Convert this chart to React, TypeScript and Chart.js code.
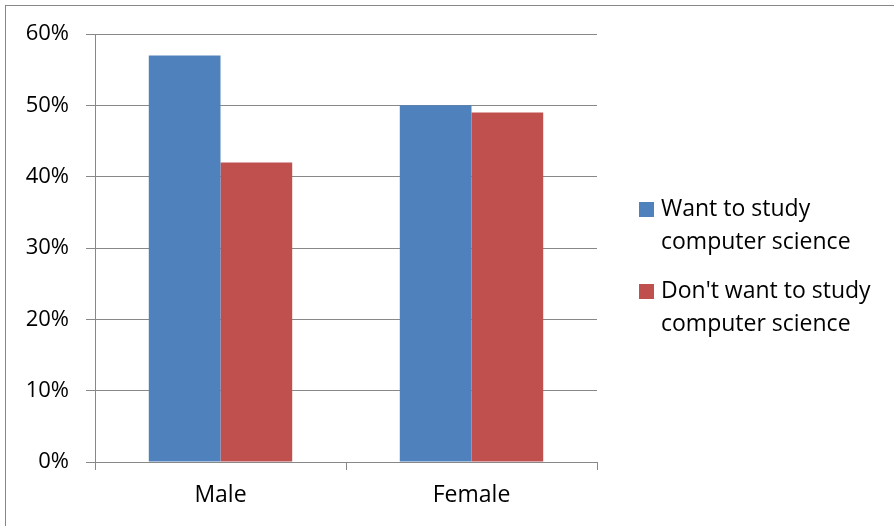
import React, { useEffect, useRef } from "react";
import { Chart, registerables } from "chart.js";

Chart.register(...registerables);

const categories = ["Male", "Female"];
const wantToStudy = [57, 50];
const dontWantToStudy = [42, 49];
const seriesNames = [["Want to study", "computer science"], ["Don't want to study", "computer science"]];
const seriesColors = ["#4F81BD", "#C0504D"];
const yTicks = [0, 10, 20, 30, 40, 50, 60];

const FONT = "'Open Sans', sans-serif";
const GRID = "#888888";

// Outer frame and a wrapped legend drawn on the canvas.
const framePlugin = {
  id: "frameAndLegend",
  afterDraw(chart: Chart) {
    const ctx = chart.ctx;
    ctx.save();
    ctx.strokeStyle = GRID;
    ctx.lineWidth = 1;
    ctx.strokeRect(5.5, 5.5, 2000, 2000);

    const boxX = 639;
    const textX = 661;
    const entryTops = [202, 284];
    ctx.font = `23px ${FONT}`;
    ctx.textBaseline = "alphabetic";
    ctx.textAlign = "left";
    chart.data.datasets.forEach((ds, i) => {
      const top = entryTops[i];
      ctx.fillStyle = ds.backgroundColor as string;
      ctx.fillRect(boxX, top, 15, 15);
      ctx.fillStyle = "#000";
      const lines = seriesNames[i];
      lines.forEach((line, j) => {
        ctx.fillText(line, textX, top + 14 + j * 33);
      });
    });
    ctx.restore();
  },
};

export default function App() {
  const ref = useRef<HTMLCanvasElement>(null);
  useEffect(() => {
    if (!ref.current) return;
    const chart = new Chart(ref.current, {
      type: "bar",
      data: {
        labels: categories,
        datasets: [
          { label: seriesNames[0].join(" "), data: wantToStudy, backgroundColor: seriesColors[0] },
          { label: seriesNames[1].join(" "), data: dontWantToStudy, backgroundColor: seriesColors[1] },
        ],
      },
      options: {
        animation: false,
        responsive: false,
        devicePixelRatio: 1,
        layout: { padding: { left: 0, top: 34, right: 297, bottom: 0 } },
        datasets: { bar: { categoryPercentage: 1 / 1.75, barPercentage: 1 } },
        plugins: { legend: { display: false }, tooltip: { enabled: false } },
        scales: {
          x: {
            afterFit(scale: any) { scale.height = 64; },
            grid: { display: true, drawOnChartArea: false, offset: true, color: GRID, tickLength: 8 },
            border: { color: GRID },
            ticks: { color: "#000", font: { family: FONT, size: 23 }, padding: 12 },
          },
          y: {
            min: 0,
            max: 60,
            afterFit(scale: any) { scale.width = 95; },
            afterBuildTicks(scale: any) { scale.ticks = yTicks.map((v) => ({ value: v })); },
            grid: { color: GRID, tickLength: 9 },
            border: { color: GRID },
            ticks: {
              color: "#000",
              font: { family: FONT, size: 22 },
              padding: 17,
              callback: (v: any) => `${v}%`,
            },
          },
        },
      },
      plugins: [framePlugin],
    });
    return () => chart.destroy();
  }, []);
  return (
    <div style={{ position: "fixed", left: 0, top: 0, width: 894, height: 526, background: "#fff" }}>
      <canvas ref={ref} width={894} height={526} />
    </div>
  );
}
